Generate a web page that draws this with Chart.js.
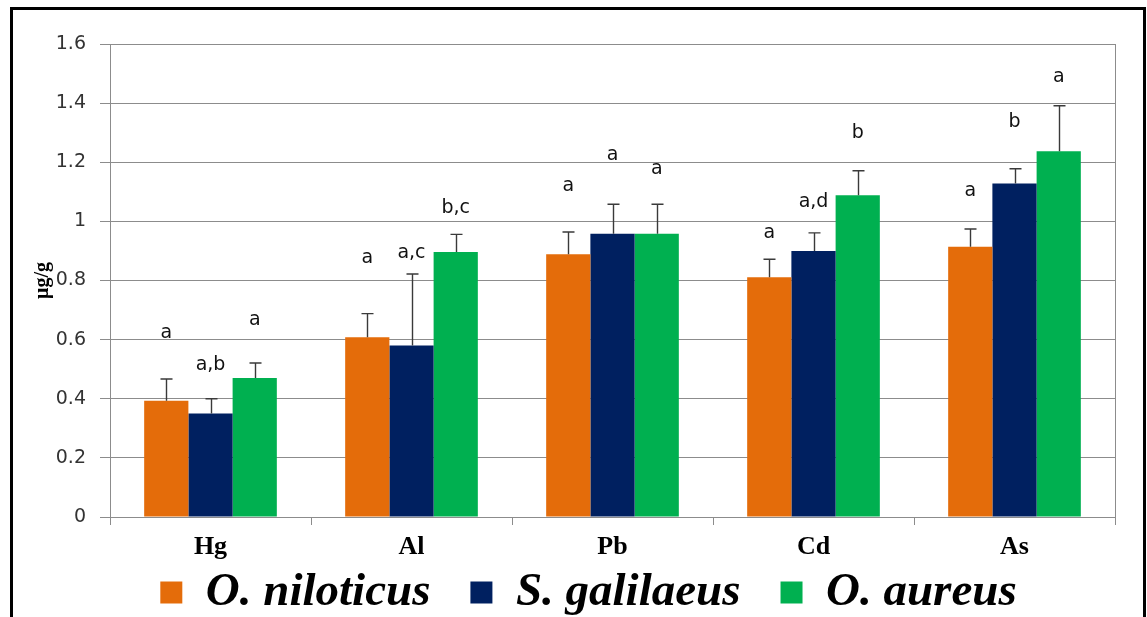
<!DOCTYPE html>
<html>
<head>
<meta charset="utf-8">
<script src="https://cdn.jsdelivr.net/npm/chart.js@4.4.1/dist/chart.umd.min.js"></script>
<style>
  html, body { margin:0; padding:0; background:#fff; }
  body { width:1147px; height:617px; position:relative; overflow:hidden; }
  #frame { position:absolute; left:10px; top:7px; width:1136px; height:700px; border:3px solid #000; box-sizing:border-box; }
  #chart { position:absolute; left:0; top:0; }
</style>
</head>
<body>
<div id="frame"></div>
<canvas id="chart" width="1147" height="617"></canvas>
<script>
// metals (x categories)
const categories = ['Hg', 'Al', 'Pb', 'Cd', 'As'];
const yTicks = [0, 0.2, 0.4, 0.6, 0.8, 1, 1.2, 1.4, 1.6];

// mean concentrations, µg/g
const niloticus = [0.393, 0.608, 0.889, 0.811, 0.914];
const galilaeus = [0.35, 0.58, 0.958, 0.90, 1.128];
const aureus    = [0.47, 0.896, 0.958, 1.088, 1.237];

// standard deviations (upper error bar only)
const niloticusSD = [0.074, 0.08, 0.075, 0.061, 0.06];
const galilaeusSD = [0.05, 0.242, 0.10, 0.061, 0.05];
const aureusSD    = [0.051, 0.06, 0.10, 0.083, 0.154];

// significance letters and the value they sit at
const niloticusLetters = ['a', 'a', 'a', 'a', 'a'];
const galilaeusLetters = ['a,b', 'a,c', 'a', 'a,d', 'b'];
const aureusLetters    = ['a', 'b,c', 'a', 'b', 'a'];
const niloticusLetterAt = [0.622, 0.875, 1.118, 0.961, 1.103];
const galilaeusLetterAt = [0.514, 0.892, 1.226, 1.066, 1.336];
const aureusLetterAt    = [0.666, 1.044, 1.176, 1.299, 1.488];

const GRID = '#8c8c8c';

// ---------- error bars, letters, plot frame ----------
const extras = {
  id: 'extras',
  afterLayout(chart){
    // legend sits a bit higher / further right than the stacked layout puts it
    const lg = chart.legend;
    lg.top -= 36; lg.bottom -= 36;
    lg.left += 16; lg.right += 16;
  },
  afterDatasetsDraw(chart){
    const {ctx, chartArea, scales:{y}} = chart;
    ctx.save();
    // right edge of plot area
    ctx.strokeStyle = GRID;
    ctx.lineWidth = 1;
    ctx.beginPath();
    ctx.moveTo(chartArea.right + 0.5, chartArea.top);
    ctx.lineTo(chartArea.right + 0.5, chartArea.bottom);
    ctx.stroke();

    chart.data.datasets.forEach((ds, di) => {
      const meta = chart.getDatasetMeta(di);
      meta.data.forEach((bar, i) => {
        const top = y.getPixelForValue(ds.data[i]);
        const end = y.getPixelForValue(ds.data[i] + ds.sd[i]);
        const x = Math.round(bar.x) + 0.5;
        ctx.strokeStyle = '#3a3a3a';
        ctx.lineWidth = 1.4;
        ctx.beginPath();
        ctx.moveTo(x, top);
        ctx.lineTo(x, end);
        ctx.moveTo(x - 6, end);
        ctx.lineTo(x + 6, end);
        ctx.stroke();

        ctx.fillStyle = '#111';
        ctx.font = '19px "DejaVu Sans"';
        ctx.textAlign = 'center';
        ctx.textBaseline = 'middle';
        ctx.fillText(ds.letters[i], bar.x, y.getPixelForValue(ds.letterAt[i]));
      });
    });
    ctx.restore();
  }
};

const ctx = document.getElementById('chart').getContext('2d');
new Chart(ctx, {
  type: 'bar',
  data: {
    labels: categories,
    datasets: [
      { label: 'O. niloticus', data: niloticus, sd: niloticusSD, letters: niloticusLetters, letterAt: niloticusLetterAt, backgroundColor: '#E46C0A' },
      { label: 'S. galilaeus', data: galilaeus, sd: galilaeusSD, letters: galilaeusLetters, letterAt: galilaeusLetterAt, backgroundColor: '#002060' },
      { label: 'O. aureus',    data: aureus,    sd: aureusSD,    letters: aureusLetters,    letterAt: aureusLetterAt,    backgroundColor: '#00B050' }
    ]
  },
  options: {
    responsive: false,
    animation: false,
    events: [],
    categoryPercentage: 0.66,
    barPercentage: 1,
    layout: { padding: { left: 30, right: 32, top: 44, bottom: -45 } },
    plugins: {
      tooltip: { enabled: false },
      legend: {
        position: 'bottom',
        labels: {
          boxWidth: 22,
          boxHeight: 22,
          padding: 40,
          color: '#000',
          font: { family: '"Liberation Serif"', size: 47, style: 'italic', weight: 'bold' }
        }
      }
    },
    scales: {
      x: {
        afterFit(scale){ scale.height = 48; },
        grid: { offset: true, drawOnChartArea: false, tickLength: 8, color: GRID },
        border: { color: GRID },
        ticks: { padding: 7, color: '#000', font: { family: '"Liberation Serif"', size: 26, weight: 'bold' } }
      },
      y: {
        min: 0,
        max: 1.6,
        afterFit(scale){ scale.width = 80; },
        afterBuildTicks(scale){ scale.ticks = yTicks.map(v => ({ value: v })); },
        grid: { color: GRID, tickLength: 10 },
        border: { color: GRID },
        ticks: {
          padding: 14,
          color: '#333',
          font: { family: '"DejaVu Sans"', size: 19 },
          callback: v => String(Math.round(v * 10) / 10)
        },
        title: {
          display: true,
          text: 'μg/g',
          color: '#000',
          padding: { top: 1, bottom: 0 },
          font: { family: '"Liberation Serif"', size: 20, weight: 'bold' }
        }
      }
    }
  },
  plugins: [extras]
});
</script>
</body>
</html>
